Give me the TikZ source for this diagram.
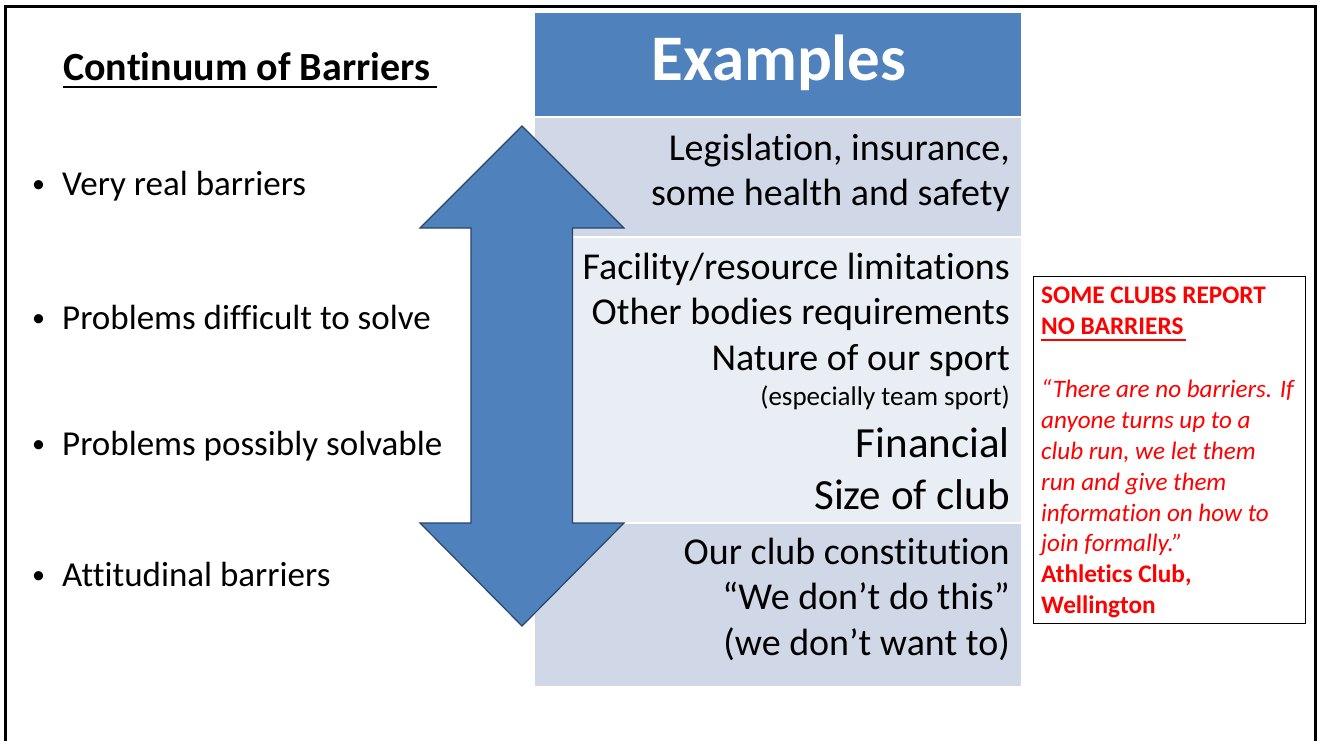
\documentclass[tikz,border=0pt]{standalone}
\usepackage{fontspec}
\setmainfont[Ligatures={NoCommon,NoRare,NoContextual}]{Carlito}
\definecolor{hdr}{HTML}{4F81BD}
\definecolor{rowA}{HTML}{D0D8E8}
\definecolor{rowB}{HTML}{E9EDF4}
\definecolor{arrline}{HTML}{2B4566}
\definecolor{redtxt}{HTML}{FF0000}
\begin{document}
\begin{tikzpicture}[x=1pt,y=-1pt,
  bul/.style={anchor=base west, inner sep=0pt, font=\fontsize{35}{42}\selectfont},
  dot/.style={anchor=base west, inner sep=0pt, font=\fontsize{26}{30}\selectfont},
  ex/.style={anchor=base east, inner sep=0pt, font=\fontsize{38}{46}\selectfont},
  exbig/.style={anchor=base east, inner sep=0pt, font=\fontsize{43}{50}\selectfont},
  exsmall/.style={anchor=base east, inner sep=0pt, font=\fontsize{27}{32}\selectfont},
  rb/.style={anchor=base west, inner sep=0pt, text=redtxt, font=\fontsize{25.3}{30}\selectfont\bfseries},
  ri/.style={anchor=base west, inner sep=0pt, text=redtxt, font=\fontsize{25.1}{30}\selectfont\itshape}
]
\useasboundingbox (0,0) rectangle (1319,740);
\fill[white] (0,0) rectangle (1319,740);
% outer frame
\coordinate (fbl) at (5,760);
\coordinate (ftl) at (5,6);
\coordinate (ftr) at (1315,6);
\coordinate (fbr) at (1315,760);
\draw[line width=3pt] (fbl) -- (ftl) -- (ftr) -- (fbr);

% title
\node[anchor=base west, inner sep=0pt, font=\fontsize{40}{46}\selectfont\bfseries] (title) at (63,80) {Continuum of Barriers};
\coordinate (ul1) at (63,87);
\coordinate (ul2) at (437,87);
\draw[line width=2.5pt] (ul1) -- (ul2);

% bullets
\node[dot] (b1) at (32,192) {•};
\node[bul] (t1) at (62,195) {Very real barriers};
\node[dot] (b2) at (32,326) {•};
\node[bul] (t2) at (62,329) {Problems difficult to solve};
\node[dot] (b3) at (32,452) {•};
\node[bul] (t3) at (62,455) {Problems possibly solvable};
\node[dot] (b4) at (32,583) {•};
\node[bul] (t4) at (62,586) {Attitudinal barriers};

% table
\fill[hdr] (535,13) rectangle (1021,115.5);
\fill[rowA] (535,118) rectangle (1021,235.5);
\fill[rowB] (535,237.5) rectangle (1021,522);
\fill[rowA] (535,524) rectangle (1021,686);
\node[anchor=base, inner sep=0pt, text=white, font=\fontsize{65}{70}\selectfont\bfseries] (exhdr) at (779,80) {Examples};

% double arrow
\draw[fill=hdr, draw=arrline, line width=1.2pt, line join=miter]
  (522,126) -- (624,228) -- (572.5,228) -- (572.5,523) -- (624,523) -- (522,626)
  -- (420,523) -- (471,523) -- (471,228) -- (420,228) -- cycle;

% row texts
\node[ex] (r1a) at (1010,160) {Legislation, insurance,};
\node[ex] (r1b) at (1010,205) {some health and safety};
\node[ex] (r2a) at (1010,279) {Facility/resource limitations};
\node[ex] (r2b) at (1010,324) {Other bodies requirements};
\node[ex] (r2c) at (1010,370) {Nature of our sport};
\node[exsmall] (r2d) at (1010,405) {(especially team sport)};
\node[exbig] (r2e) at (1010,457) {Financial};
\node[exbig] (r2f) at (1010,509) {Size of club};
\node[ex] (r3a) at (1010,564) {Our club constitution};
\node[ex] (r3b) at (1010,609) {“We don’t do this”};
\node[ex] (r3c) at (1010,655) {(we don’t want to)};

% quote box
\draw[line width=1pt] (1033,276) rectangle (1305,623);
\node[rb] (q1) at (1041,303.5) {SOME CLUBS REPORT};
\node[rb] (q2) at (1041,334) {NO BARRIERS};
\coordinate (ul3) at (1041,339.5);
\coordinate (ul4) at (1186,339.5);
\draw[redtxt, line width=2pt] (ul3) -- (ul4);
\node[ri] (q3) at (1041,397.3) {“There are no barriers. If};
\node[ri] (q4) at (1041,428.3) {anyone turns up to a};
\node[ri] (q5) at (1041,459) {club run, we let them};
\node[ri] (q6) at (1041,490) {run and give them};
\node[ri] (q7) at (1041,521) {information on how to};
\node[ri] (q8) at (1041,551.7) {join formally.”};
\node[rb] (q9) at (1041,582.7) {Athletics Club,};
\node[rb] (q10) at (1041,613.3) {Wellington};
\end{tikzpicture}
\end{document}
